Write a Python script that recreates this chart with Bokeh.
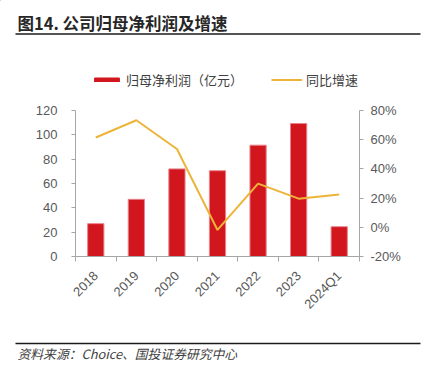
from bokeh.plotting import figure
from bokeh.layouts import column
from bokeh.models import (Range1d, LinearAxis, FixedTicker, Label, Legend, LegendItem)
from bokeh.embed import file_html
from bokeh.resources import INLINE
from math import pi

# ---- data ----
categories = ["2018", "2019", "2020", "2021", "2022", "2023", "2024Q1"]
net_profit = [27.0, 47.0, 72.0, 70.5, 91.5, 109.3, 24.5]      # 亿元
yoy_growth = [61.5, 73.3, 53.6, -1.8, 29.9, 19.6, 22.5]       # %
left_ticks = [0, 20, 40, 60, 80, 100, 120]
right_ticks = [-20, 0, 20, 40, 60, 80]
right_tick_labels = ["-20%", "0%", "20%", "40%", "60%", "80%"]
title_text = "图14. 公司归母净利润及增速"
source_text = "资料来源：Choice、国投证券研究中心"
bar_name = "归母净利润（亿元）"
line_name = "同比增速"

BAR_FILL = "#D1161E"
BAR_LINE = "#E8838A"
LINE_COL = "#EDB43A"
AX = "#a6a6a6"
LAB = "#595959"
FONT = "Liberation Sans"
CJK = "Noto Sans CJK SC"

W = 425
H_HEAD, H_MAIN, H_FOOT = 96, 240, 33
FL, FR, FT, FB = 75, 359, 14, 160   # frame edges inside main fig

xpos = [i + 0.5 for i in range(len(categories))]


def blank(h):
    f = figure(width=W, height=h, x_range=Range1d(0, W), y_range=Range1d(h, 0),
               output_backend="svg", toolbar_location=None,
               x_axis_type=None, y_axis_type=None,
               min_border=0, min_border_left=0, min_border_right=0,
               min_border_top=0, min_border_bottom=0, frame_align=False)
    f.outline_line_color = None
    f.background_fill_color = "white"
    f.border_fill_color = "white"
    return f


# ---- header: title, rule, legend ----
head = blank(H_HEAD)
head.add_layout(Label(x=17, y=22, text=title_text, text_font=CJK,
                      text_font_size="16.5px", text_font_style="bold",
                      text_color="#262626", text_baseline="middle"))
head.segment(x0=[15], y0=[33.5], x1=[420], y1=[33.5],
             line_color="#1a1a1a", line_width=1.5)
# off-screen proxies so the legend can show the series styles
hb = head.vbar(x=[-50], top=[-50], width=1, fill_color=BAR_FILL, line_color=BAR_FILL)
hl = head.line(x=[-60, -50], y=[-50, -50], line_color=LINE_COL, line_width=2)
legend = Legend(items=[LegendItem(label=bar_name, renderers=[hb]),
                       LegendItem(label=line_name, renderers=[hl])],
                orientation="horizontal", location=(91, 7),
                glyph_width=31, glyph_height=5, label_standoff=4,
                spacing=28, padding=0, margin=0, label_height=12,
                border_line_color=None, background_fill_alpha=0,
                label_text_font=CJK, label_text_font_size="13px",
                label_text_color="#404040")
head.add_layout(legend, "center")

# ---- main chart ----
p = figure(width=W, height=H_MAIN, x_range=Range1d(0, len(categories)),
           y_range=Range1d(left_ticks[0], left_ticks[-1]),
           output_backend="svg", toolbar_location=None,
           x_axis_type=None, y_axis_type=None, frame_align=False,
           min_border_left=FL, min_border_right=W - FR,
           min_border_top=FT, min_border_bottom=H_MAIN - FB)
p.outline_line_color = None
p.background_fill_color = "white"
p.border_fill_color = "white"
p.extra_y_ranges = {"pct": Range1d(right_ticks[0], right_ticks[-1])}

xt = FixedTicker(ticks=xpos, minor_ticks=list(range(len(categories) + 1)))
xaxis = LinearAxis(ticker=xt, axis_line_color=AX, major_tick_line_color=None,
                   major_tick_out=0, major_tick_in=0,
                   minor_tick_line_color=AX, minor_tick_out=5, minor_tick_in=0,
                   major_label_overrides={x: c for x, c in zip(xpos, categories)},
                   major_label_orientation=pi / 4, major_label_standoff=12,
                   major_label_text_font=FONT, major_label_text_font_size="13px",
                   major_label_text_color=LAB)
p.add_layout(xaxis, "below")

yaxis = LinearAxis(ticker=FixedTicker(ticks=left_ticks), axis_line_color=AX,
                   major_tick_line_color=AX, major_tick_out=4, major_tick_in=0,
                   minor_tick_line_color=None, major_label_standoff=14,
                   major_label_text_font=FONT, major_label_text_font_size="13px",
                   major_label_text_color=LAB)
p.add_layout(yaxis, "left")

raxis = LinearAxis(y_range_name="pct", ticker=FixedTicker(ticks=right_ticks),
                   axis_line_color=AX, major_tick_line_color=AX,
                   major_tick_out=4, major_tick_in=0, minor_tick_line_color=None,
                   major_label_overrides={t: s for t, s in zip(right_ticks, right_tick_labels)},
                   major_label_standoff=7,
                   major_label_text_font=FONT, major_label_text_font_size="13px",
                   major_label_text_color=LAB)
p.add_layout(raxis, "right")

p.vbar(x=xpos, top=net_profit, width=0.4, bottom=0,
       fill_color=BAR_FILL, line_color=BAR_LINE, line_width=1)
p.line(x=xpos, y=yoy_growth, y_range_name="pct",
       line_color=LINE_COL, line_width=2)

# ---- footer: rule and source ----
foot = blank(H_FOOT)
foot.segment(x0=[15], y0=[7], x1=[420], y1=[7], line_color="#1a1a1a", line_width=1.5)
foot.add_layout(Label(x=17, y=17, text=source_text, text_font=CJK,
                      text_font_size="12.8px", text_font_style="italic",
                      text_color="#404040", text_baseline="middle"))

layout = column(head, p, foot, spacing=0)
open("out.html", "w").write(file_html(layout, INLINE))
